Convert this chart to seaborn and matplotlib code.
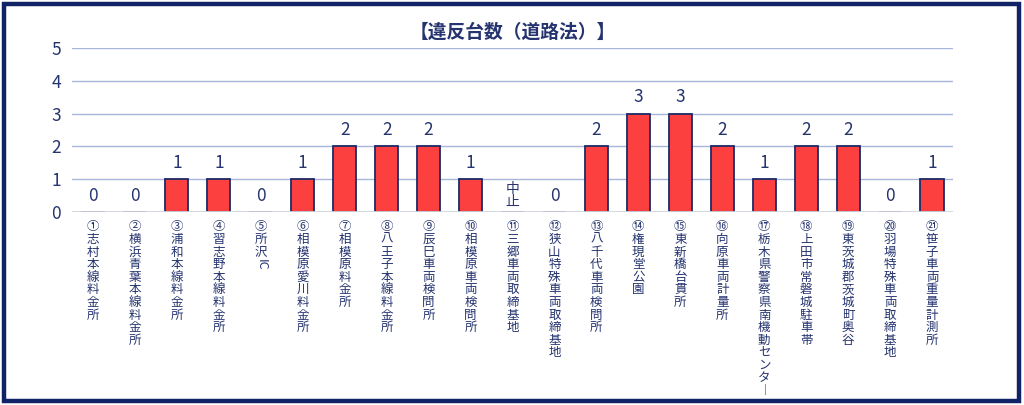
import matplotlib
matplotlib.use("Agg")
import matplotlib.pyplot as plt
import matplotlib.transforms as mtransforms
import seaborn as sns
import pandas as pd
from matplotlib.patches import Rectangle

# 違反台数(道路法) - 取締場所ごと
basho = ["①志村本線料金所", "②横浜青葉本線料金所", "③浦和本線料金所", "④習志野本線料金所",
         "⑤所沢IC", "⑥相模原愛川料金所", "⑦相模原料金所", "⑧八王子本線料金所",
         "⑨辰巳車両検問所", "⑩相模原車両検問所", "⑪三郷車両取締基地", "⑫狭山特殊車両取締基地",
         "⑬八千代車両検問所", "⑭権現堂公園", "⑮東新橋台貫所", "⑯向原車両計量所",
         "⑰栃木県警察県南機動センター", "⑱上田市常磐城駐車帯", "⑲東茨城郡茨城町奥谷",
         "⑳羽場特殊車両取締基地", "㉑笹子車両重量計測所"]
daisu = [0, 0, 1, 1, 0, 1, 2, 2, 2, 1, 0, 0, 2, 3, 3, 2, 1, 2, 2, 0, 1]
label_txt = ["0", "0", "1", "1", "0", "1", "2", "2", "2", "1", "中止", "0",
             "2", "3", "3", "2", "1", "2", "2", "0", "1"]
y_ticks = [0, 1, 2, 3, 4, 5]

navy = "#25346f"
rouge = "#fc3f3f"

sns.set_theme(style="white")
plt.rcParams['font.family'] = ['Noto Sans CJK JP', 'DejaVu Sans']

df = pd.DataFrame({"basho": basho, "daisu": daisu})

fig = plt.figure(figsize=(10.24, 4.05), dpi=100)
ax = fig.add_axes([72/1024, 1-212/405, 881/1024, 164/405])

sns.barplot(data=df, x="basho", y="daisu", color=rouge, width=0.55,
            edgecolor="#1c2a66", linewidth=1.3, saturation=1, ax=ax, zorder=3)

# grille
ax.set_ylim(0, 5)
ax.set_yticks(y_ticks)
ax.yaxis.grid(True, color="#a9b6dc", linewidth=1, zorder=0)
ax.axhline(0, color="#d4d6dc", linewidth=2, zorder=4)
for s in ax.spines.values():
    s.set_visible(False)
ax.tick_params(axis="y", length=0, pad=8, labelsize=12.5, labelcolor=navy)
ax.tick_params(axis="x", length=0, pad=6)
ax.set_xlabel("")
ax.set_ylabel("")

# labels verticaux (caracteres empiles), le trait long en forme verticale
# les lettres latines (IC) sont tournees a part, comme en ecriture verticale
trans = mtransforms.blended_transform_factory(ax.transData, ax.transAxes)
xl = []
for i, b in enumerate(basho):
    b = b.replace("ー", "︱")
    latin = ""
    if b.endswith("IC"):
        b, latin = b[:-2], "IC"
    xl.append("\n".join(list(b)))
    if latin:
        n = len(b)
        ax.text(i, -(6 + 6 + n * 11.7) / 164, latin, rotation=-90, ha="center", va="top",
                fontsize=9, color=navy, transform=trans)
ax.set_xticks(range(len(basho)))
ax.set_xticklabels(xl, fontsize=9, color=navy, linespacing=0.96, va="top")

# valeurs au dessus des barres
for i, t in enumerate(label_txt):
    if t == "中止":
        ax.text(i, 0.08, "中\n止", ha="center", va="bottom", fontsize=10,
                color=navy, linespacing=0.9)
    else:
        ax.text(i, daisu[i] + 0.22, t, ha="center", va="bottom", fontsize=12.5, color=navy)

ax.set_title("【違反台数（道路法）】", fontsize=13.5, fontweight="bold", color=navy, pad=7)

# cadre
fig.patches.append(Rectangle((4/1024, 4/405), 1015/1024, 397/405, transform=fig.transFigure,
                             fill=False, edgecolor="#0f2366", linewidth=3.2))

fig.savefig("out.png", dpi=100, facecolor="white")
